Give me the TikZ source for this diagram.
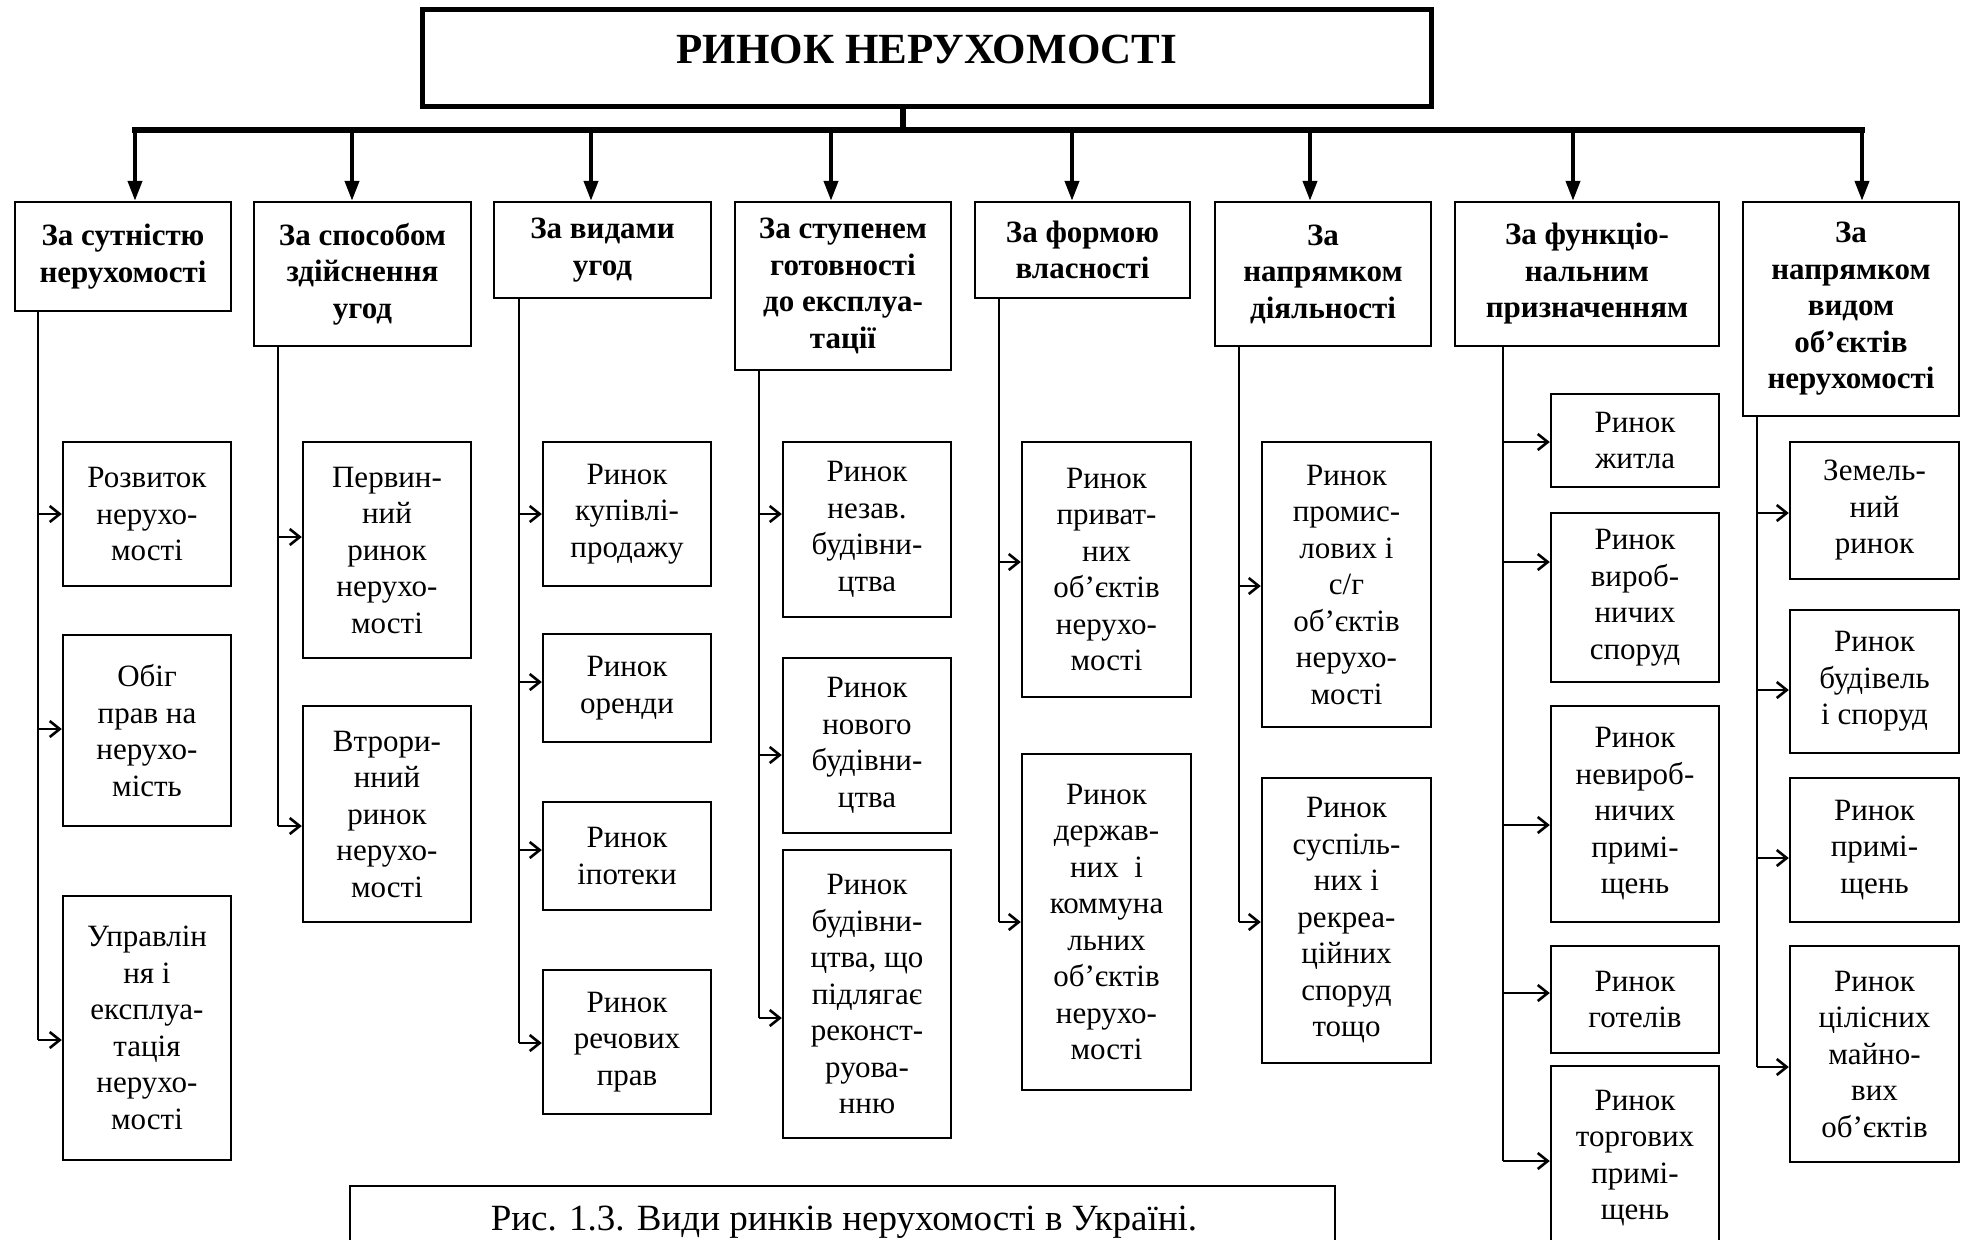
\documentclass[tikz,border=0pt]{standalone}
\usepackage{fontspec}
\setmainfont{Liberation Serif}
\usetikzlibrary{arrows.meta}
\tikzset{
  hdr/.style={draw, line width=1.2pt, align=center, inner sep=0pt, font=\fontsize{15.5}{18.25}\selectfont\bfseries},
  cbx/.style={draw, line width=1.2pt, align=center, inner sep=0pt, font=\fontsize{15.5}{18.25}\selectfont},
  bigarrow/.style={line width=2pt, -{Triangle[width=7pt,length=10pt]}},
  sparrow/.style={line width=1pt, -{Straight Barb[length=5pt,width=8pt,line width=1.3pt]}},
  spine/.style={line width=1pt},
  frame/.style={draw, line width=1.2pt, inner sep=0pt},
}
% style, name, x1, y1, x2, y2, text
\newcommand\bx[7]{\node[#1, minimum width={(#5-#3)*0.5pt}, minimum height={(#6-#4)*0.5pt}] (#2) at ({(#3+#5)/2},{(#4+#6)/2}) {#7};}
% child name, spine x, arrow y
\newcommand\sa[3]{\coordinate (#1a) at (#2,#3); \draw[sparrow] (#1a) -- (#1a -| #1.west);}
\begin{document}
\begin{tikzpicture}[x=0.5pt,y=-0.5pt]
\useasboundingbox (0,0) rectangle (1971,1239);
\fill[white] (0,0) rectangle (1971,1239);
\clip (0,0) rectangle (1971,1239);

% title
\node[draw, line width=2.5pt, inner sep=0pt, minimum width={(1431-422)*0.5pt}, minimum height={(106-9)*0.5pt}] (T) at ({(422+1431)/2},{(9+106)/2}) {};
\node[anchor=base, inner sep=0pt, font=\fontsize{21.5}{25}\selectfont\bfseries] (Tt) at (927,63) {РИНОК НЕРУХОМОСТІ};

% headers
\bx{hdr}{H1}{15}{202}{231}{311}{За сутністю\\нерухомості}
\bx{hdr}{H2}{254}{202}{471}{346}{За способом\\здійснення\\угод}
\bx{hdr}{H3}{494}{202}{711}{298}{За видами\\угод}
\bx{hdr}{H4}{735}{202}{951}{370}{За ступенем\\готовності\\до експлуа-\\тації}
\bx{hdr}{H5}{975}{202}{1190}{298}{За формою\\власності}
\bx{hdr}{H6}{1215}{202}{1431}{346}{За\\напрямком\\діяльності}
\bx{hdr}{H7}{1455}{202}{1719}{346}{За функціо-\\нальним\\призначенням}
\bx{hdr}{H8}{1743}{202}{1959}{416}{За\\напрямком\\видом\\об’єктів\\нерухомості}

% bus
\coordinate (ts) at (903,130);
\coordinate (b1) at (135,130);
\coordinate (b2) at (352,130);
\coordinate (b3) at (591,130);
\coordinate (b4) at (831,130);
\coordinate (b5) at (1072,130);
\coordinate (b6) at (1310,130);
\coordinate (b7) at (1573,130);
\coordinate (b8) at (1862,130);
\draw[line width=3pt] (ts |- T.south) -- (ts);
\draw[line width=2.6pt, line cap=rect] (b1) -- (b8);
\foreach \i in {1,...,8} {\draw[bigarrow] (b\i) -- (b\i |- H\i.north);}

% column 1
\bx{cbx}{c11}{63}{442}{231}{586}{Розвиток\\нерухо-\\мості}
\bx{cbx}{c12}{63}{635}{231}{826}{Обіг\\прав на\\нерухо-\\мість}
\bx{cbx}{c13}{63}{896}{231}{1160}{Управлін\\ня і\\експлуа-\\тація\\нерухо-\\мості}
\coordinate (sp1) at (38,1040);
\draw[spine] (sp1 |- H1.south) -- (sp1);
\sa{c11}{38}{514}
\sa{c12}{38}{729}
\sa{c13}{38}{1040}

% column 2
\bx{cbx}{c21}{303}{442}{471}{658}{Первин-\\ний\\ринок\\нерухо-\\мості}
\bx{cbx}{c22}{303}{706}{471}{922}{Втрори-\\нний\\ринок\\нерухо-\\мості}
\coordinate (sp2) at (278,826);
\draw[spine] (sp2 |- H2.south) -- (sp2);
\sa{c21}{278}{537}
\sa{c22}{278}{826}

% column 3
\bx{cbx}{c31}{543}{442}{711}{586}{Ринок\\купівлі-\\продажу}
\bx{cbx}{c32}{543}{634}{711}{742}{Ринок\\оренди}
\bx{cbx}{c33}{543}{802}{711}{910}{Ринок\\іпотеки}
\bx{cbx}{c34}{543}{970}{711}{1114}{Ринок\\речових\\прав}
\coordinate (sp3) at (519,1043);
\draw[spine] (sp3 |- H3.south) -- (sp3);
\sa{c31}{519}{514}
\sa{c32}{519}{682}
\sa{c33}{519}{850}
\sa{c34}{519}{1043}

% column 4
\bx{cbx}{c41}{783}{442}{951}{617}{Ринок\\незав.\\будівни-\\цтва}
\bx{cbx}{c42}{783}{658}{951}{833}{Ринок\\нового\\будівни-\\цтва}
\bx{cbx}{c43}{783}{850}{951}{1138}{Ринок\\будівни-\\цтва, що\\підлягає\\реконст-\\руова-\\нню}
\coordinate (sp4) at (759,1018);
\draw[spine] (sp4 |- H4.south) -- (sp4);
\sa{c41}{759}{514}
\sa{c42}{759}{755}
\sa{c43}{759}{1018}

% column 5
\bx{cbx}{c51}{1022}{442}{1191}{697}{Ринок\\приват-\\них\\об’єктів\\нерухо-\\мості}
\bx{cbx}{c52}{1022}{754}{1191}{1090}{Ринок\\держав-\\них~ і\\коммуна\\льних\\об’єктів\\нерухо-\\мості}
\coordinate (sp5) at (999,922);
\draw[spine] (sp5 |- H5.south) -- (sp5);
\sa{c51}{999}{562}
\sa{c52}{999}{922}

% column 6
\bx{cbx}{c61}{1262}{442}{1431}{727}{Ринок\\промис-\\лових і\\с/г\\об’єктів\\нерухо-\\мості}
\bx{cbx}{c62}{1262}{778}{1431}{1063}{Ринок\\суспіль-\\них і\\рекреа-\\ційних\\споруд\\тощо}
\coordinate (sp6) at (1239,922);
\draw[spine] (sp6 |- H6.south) -- (sp6);
\sa{c61}{1239}{586}
\sa{c62}{1239}{922}

% column 7
\bx{cbx}{c71}{1551}{394}{1719}{487}{Ринок\\житла}
\bx{cbx}{c72}{1551}{513}{1719}{682}{Ринок\\вироб-\\ничих\\споруд}
\bx{cbx}{c73}{1551}{706}{1719}{922}{Ринок\\невироб-\\ничих\\примі-\\щень}
\bx{cbx}{c74}{1551}{946}{1719}{1053}{Ринок\\готелів}
\bx{cbx}{c75}{1551}{1066}{1719}{1250}{Ринок\\торгових\\примі-\\щень}
\coordinate (sp7) at (1503,1161);
\draw[spine] (sp7 |- H7.south) -- (sp7);
\sa{c71}{1503}{442}
\sa{c72}{1503}{562}
\sa{c73}{1503}{825}
\sa{c74}{1503}{993}
\sa{c75}{1503}{1161}

% column 8
\bx{cbx}{c81}{1790}{442}{1959}{579}{Земель-\\ний\\ринок}
\bx{cbx}{c82}{1790}{610}{1959}{753}{Ринок\\будівель\\і споруд}
\bx{cbx}{c83}{1790}{778}{1959}{922}{Ринок\\примі-\\щень}
\bx{cbx}{c84}{1790}{946}{1959}{1162}{Ринок\\цілісних\\майно-\\вих\\об’єктів}
\coordinate (sp8) at (1757,1067);
\draw[spine] (sp8 |- H8.south) -- (sp8);
\sa{c81}{1757}{513}
\sa{c82}{1757}{690}
\sa{c83}{1757}{858}
\sa{c84}{1757}{1067}

% caption
\bx{frame}{capbox}{350}{1186}{1335}{1270}{}
\node[anchor=base, inner sep=0pt, font=\fontsize{18.5}{22}\selectfont] (captxt) at (844,1230) {Рис. 1.3. Види ринків нерухомості в Україні.};
\end{tikzpicture}
\end{document}
